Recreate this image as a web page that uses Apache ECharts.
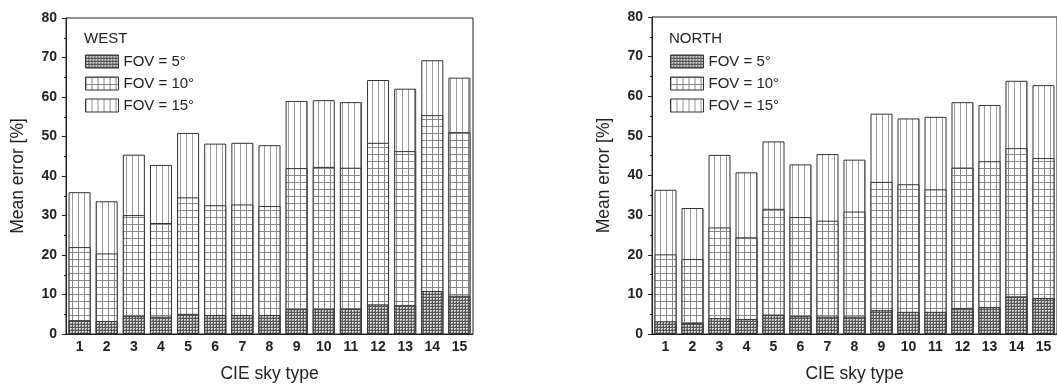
<!DOCTYPE html>
<html>
<head>
<meta charset="utf-8">
<script src="https://cdn.jsdelivr.net/npm/echarts@6/dist/echarts.min.js"></script>
<style>
html,body{margin:0;padding:0;background:#fff;}
#c{width:1057px;height:388px;}
</style>
</head>
<body>
<div id="c"></div>
<script>
const categories = ['1','2','3','4','5','6','7','8','9','10','11','12','13','14','15'];
const seriesNames = ['FOV = 5°', 'FOV = 10°', 'FOV = 15°'];
const yTicks = [0, 10, 20, 30, 40, 50, 60, 70, 80];

const west5  = [3.5, 3.3, 4.6, 4.4, 5.1, 4.8, 4.8, 4.8, 6.3, 6.3, 6.4, 7.5, 7.3, 10.9, 9.7];
const west10 = [22.0, 20.4, 30.1, 28.1, 34.6, 32.6, 32.8, 32.4, 42.0, 42.3, 42.1, 48.4, 46.3, 55.4, 51.1];
const west15 = [35.9, 33.6, 45.4, 42.8, 50.9, 48.2, 48.4, 47.8, 59.0, 59.2, 58.7, 64.3, 62.1, 69.3, 64.9];

const north5  = [3.2, 2.8, 4.0, 3.8, 4.9, 4.5, 4.4, 4.4, 6.0, 5.6, 5.6, 6.6, 6.8, 9.5, 9.1];
const north10 = [20.1, 18.9, 26.9, 24.4, 31.6, 29.5, 28.6, 30.9, 38.4, 37.8, 36.5, 42.0, 43.6, 46.9, 44.4];
const north15 = [36.4, 31.8, 45.2, 40.8, 48.6, 42.8, 45.4, 44.0, 55.6, 54.4, 54.8, 58.5, 57.8, 63.9, 62.8];

function makePattern(kind) {
  const cv = document.createElement('canvas');
  const ctx = cv.getContext('2d');
  if (kind === 'dots') {
    cv.width = 3; cv.height = 3;
    ctx.fillStyle = '#d8d8d8'; ctx.fillRect(0, 0, 3, 3);
    ctx.fillStyle = '#555'; ctx.fillRect(0, 0, 3, 1); ctx.fillRect(0, 0, 1, 3);
    ctx.fillStyle = '#888'; ctx.fillRect(2, 2, 1, 1);
  } else if (kind === 'grid') {
    cv.width = 6; cv.height = 7;
    ctx.fillStyle = '#fff'; ctx.fillRect(0, 0, 6, 7);
    ctx.fillStyle = '#888'; ctx.fillRect(0, 0, 6, 1); ctx.fillRect(0, 0, 1, 7);
  } else {
    cv.width = 6; cv.height = 6;
    ctx.fillStyle = '#fff'; ctx.fillRect(0, 0, 6, 6);
    ctx.fillStyle = '#999'; ctx.fillRect(0, 0, 1, 6);
  }
  return { image: cv, repeat: 'repeat' };
}
const patterns = [makePattern('dots'), makePattern('grid'), makePattern('lines')];

const FONT = '"Liberation Sans", Arial, sans-serif';
const panels = [
  { title: 'WEST', data: [west5, west10, west15], left: 66, top: 18, width: 407, height: 320, legendLeft: 80 },
  { title: 'NORTH', data: [north5, north10, north15], left: 652, top: 17, width: 406, height: 320, legendLeft: 665 }
];

const option = {
  backgroundColor: '#fff',
  animation: false,
  title: [], legend: [], grid: [], xAxis: [], yAxis: [], series: []
};

panels.forEach((p, i) => {
  option.title.push({
    text: p.title, left: p.legendLeft - 1, top: 26,
    textStyle: { fontFamily: FONT, fontSize: 15, fontWeight: 'normal', color: '#222' }
  });
  option.legend.push({
    orient: 'vertical', left: p.legendLeft, top: 49,
    itemWidth: 33, itemHeight: 13, itemGap: 7, icon: 'rect',
    data: seriesNames,
    textStyle: { fontFamily: FONT, fontSize: 15, color: '#222' },
    itemStyle: { borderColor: '#333', borderWidth: 1 }
  });
  option.grid.push({
    left: p.left, top: p.top, width: p.width, height: p.height,
    show: true, borderColor: '#222', borderWidth: 1, backgroundColor: 'transparent'
  });
  option.xAxis.push({
    type: 'category', gridIndex: i, data: categories,
    name: 'CIE sky type', nameLocation: 'middle', nameGap: 31,
    nameTextStyle: { fontFamily: FONT, fontSize: 17.5, color: '#222' },
    axisLine: { lineStyle: { color: '#222', width: 1 } },
    axisTick: { show: false },
    axisLabel: { fontFamily: FONT, fontSize: 14, fontWeight: 'bold', color: '#222', margin: 6 }
  });
  option.yAxis.push({
    type: 'value', gridIndex: i, min: 0, max: 80, interval: 10,
    name: 'Mean error [%]', nameLocation: 'middle', nameGap: 39,
    nameTextStyle: { fontFamily: FONT, fontSize: 17.5, color: '#222' },
    axisLine: { show: true, lineStyle: { color: '#222', width: 1 } },
    axisTick: { show: true, length: 4, lineStyle: { color: '#222' } },
    minorTick: { show: true, splitNumber: 2, length: 2, lineStyle: { color: '#222' } },
    splitLine: { show: false },
    axisLabel: {
      fontFamily: FONT, fontSize: 14, fontWeight: 'bold', color: '#222', margin: 9,
      formatter: function (v) { return yTicks.indexOf(v) >= 0 ? String(v) : ''; }
    }
  });
  [2, 1, 0].forEach(k => {
    option.series.push({
      type: 'bar', name: seriesNames[k], xAxisIndex: i, yAxisIndex: i,
      data: p.data[k], barWidth: 22, barGap: '-100%', z: 2 + (2 - k),
      itemStyle: { color: patterns[k], borderColor: '#333', borderWidth: 1 }
    });
  });
});

const chart = echarts.init(document.getElementById('c'), null, { renderer: 'canvas' });
chart.setOption(option);
</script>
</body>
</html>
